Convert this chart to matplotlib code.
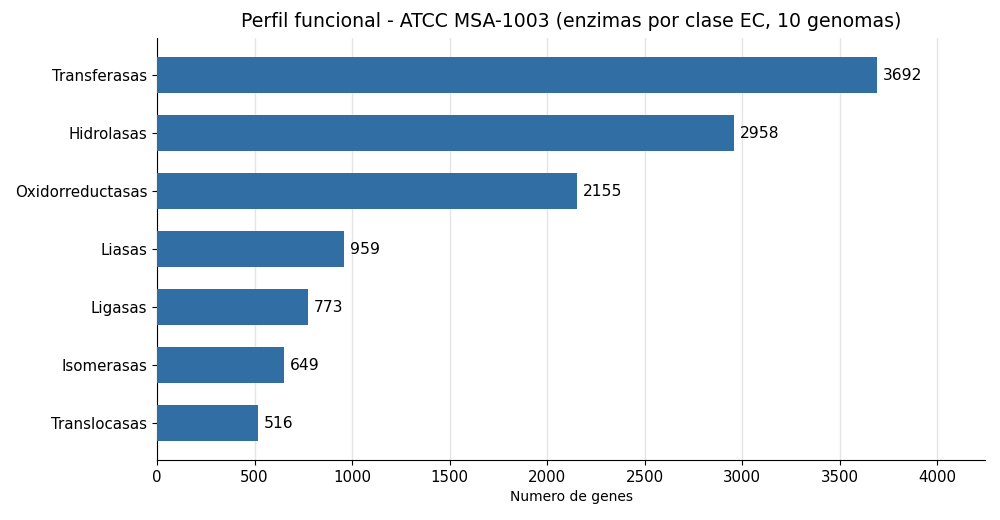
import matplotlib
matplotlib.use("Agg")
import matplotlib.pyplot as plt

clases = ["Transferasas", "Hidrolasas", "Oxidorreductasas", "Liasas",
          "Ligasas", "Isomerasas", "Translocasas"]
genes = [3692, 2958, 2155, 959, 773, 649, 516]

fig, ax = plt.subplots(figsize=(10, 5.2), dpi=100)
fig.subplots_adjust(left=0.157, right=0.985, top=0.927, bottom=0.115)

y = list(range(len(clases)))[::-1]
bars = ax.barh(y, genes, height=0.62, color="#306ea4", zorder=3)
for b, v in zip(bars, genes):
    ax.text(b.get_width() + 30, b.get_y() + b.get_height() / 2, str(v),
            va="center", ha="left", fontsize=11.2)

ax.set_yticks(y)
ax.set_yticklabels(clases, fontsize=10.8)
ax.tick_params(axis="x", labelsize=10.8)
ax.set_xlim(0, max(genes) * 1.15)
ax.set_xlabel("Numero de genes", fontsize=10)
ax.set_title("Perfil funcional - ATCC MSA-1003 (enzimas por clase EC, 10 genomas)",
             fontsize=13.6, pad=8)
ax.grid(axis="x", color="#e5e5e5", linewidth=1, zorder=0)
ax.spines["top"].set_visible(False)
ax.spines["right"].set_visible(False)

fig.savefig("out.png")
